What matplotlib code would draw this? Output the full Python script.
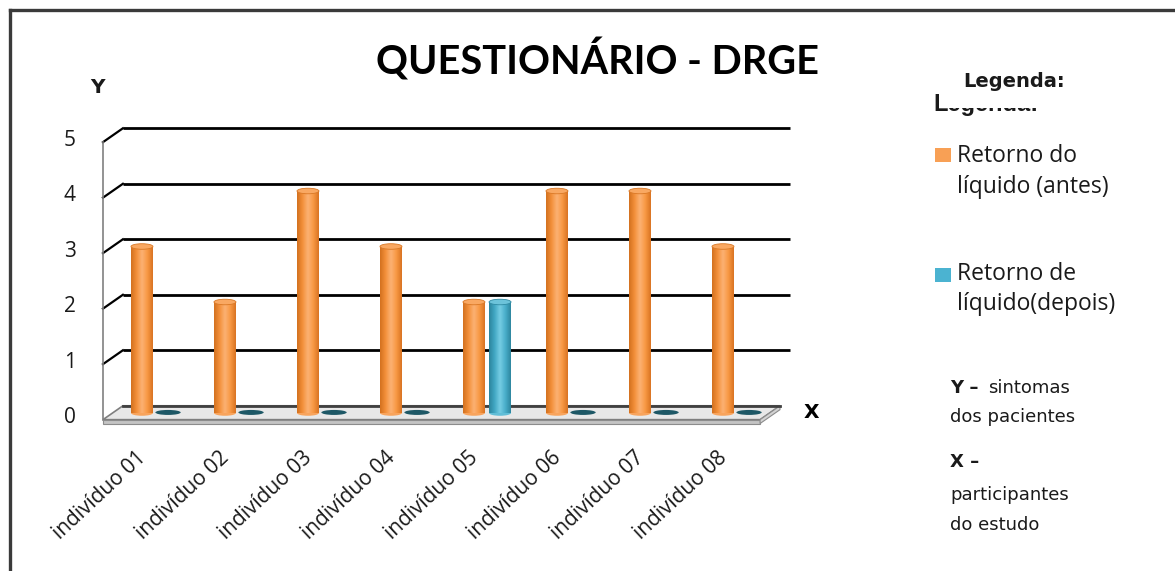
import numpy as np
import matplotlib
matplotlib.use("Agg")
import matplotlib.pyplot as plt
from matplotlib.patches import Ellipse, Polygon, Rectangle
from matplotlib.colors import LinearSegmentedColormap
from matplotlib.lines import Line2D

# ---- data ----
categories = ["indivíduo 01", "indivíduo 02", "indivíduo 03", "indivíduo 04",
              "indivíduo 05", "indivíduo 06", "indivíduo 07", "indivíduo 08"]
antes = [3, 2, 4, 3, 2, 4, 4, 3]
depois = [0, 0, 0, 0, 2, 0, 0, 0]
series_names = [["Retorno do", "líquido (antes)"], ["Retorno de", "líquido(depois)"]]
yticks = [0, 1, 2, 3, 4, 5]
title = "QUESTIONÁRIO - DRGE"

W, H = 1175, 571
fig = plt.figure(figsize=(W / 100, H / 100), dpi=100)

def fx(px):
    return px / W

def fy(py):
    return 1 - py / H

# axes region in pixels
axL, axR, axT, axB = 60, 820, 100, 450
ax = fig.add_axes([fx(axL), fy(axB), fx(axR - axL), (axB - axT) / H])
x_per_px = 1 / 83.0
y_per_px = 1 / 55.5
xlim = ((axL - 155) * x_per_px, (axR - 155) * x_per_px)
ylim = ((413 - axB) * y_per_px, (413 - axT) * y_per_px)
ax.axis("off")

n = len(categories)
x = np.arange(n)
bw = 0.265
off = 0.157
depth_x = 0.24
front_v = -0.12
back_v = 0.13
left_front = -0.627
right_back = 7.65

# back wall gridlines
for v in yticks[1:]:
    ax.plot([left_front + depth_x, right_back], [v + back_v, v + back_v],
            color="black", lw=2.0, zorder=1, solid_capstyle="butt")
    ax.plot([left_front, left_front + depth_x], [v + front_v, v + back_v],
            color="black", lw=1.6, zorder=1)
# left side wall vertical edge
ax.plot([left_front, left_front], [front_v, yticks[-1] + front_v],
        color="#808080", lw=1.2, zorder=1)

# floor slab
floor_right_front = 7.29
floor_right_back = 7.53
top_face = Polygon([[left_front, front_v], [left_front + depth_x, back_v],
                    [floor_right_back, back_v], [floor_right_front, front_v]],
                   closed=True, facecolor="#E8E8E8", edgecolor="#7F7F7F",
                   lw=1.2, zorder=2)
ax.add_patch(top_face)
front_face = Polygon([[left_front, front_v], [floor_right_front, front_v],
                      [floor_right_front, front_v - 0.07], [left_front, front_v - 0.07]],
                     closed=True, facecolor="#C4C4C4", edgecolor="#8C8C8C",
                     lw=0.8, zorder=2)
ax.add_patch(front_face)
side_face = Polygon([[floor_right_front, front_v], [floor_right_back, back_v],
                     [floor_right_back, back_v - 0.07], [floor_right_front, front_v - 0.07]],
                    closed=True, facecolor="#D3D3D3", edgecolor="#8C8C8C",
                    lw=0.8, zorder=2)
ax.add_patch(side_face)
ax.plot([left_front + depth_x, floor_right_back], [back_v, back_v],
        color="#404040", lw=2.0, zorder=2.1)

# cylinders
cm_or = LinearSegmentedColormap.from_list(
    "or", ["#D2701F", "#F3903A", "#FCB274", "#F89843", "#D87322"])
cm_tl = LinearSegmentedColormap.from_list(
    "tl", ["#2C849C", "#41A7C3", "#76CDE4", "#49AECA", "#2E869E"])
grad = np.linspace(0, 1, 128).reshape(1, -1)

def draw_cyl(xpos, vals, cmap, cap_color, edge_color, zero_color):
    bars = ax.bar(xpos, vals, width=bw, color=cap_color, edgecolor="none", zorder=3)
    for b in bars:
        x0, w, h = b.get_x(), b.get_width(), b.get_height()
        cx = x0 + w / 2
        if h > 0:
            im = ax.imshow(grad, extent=[x0, x0 + w, 0, h], cmap=cmap,
                           aspect="auto", zorder=3.1, interpolation="bicubic")
            im.set_clip_path(b)
            ax.add_patch(Ellipse((cx, 0), w, 0.1, facecolor=cmap(0.4),
                                 edgecolor="none", zorder=3.05))
            ax.add_patch(Ellipse((cx, h), w, 0.1, facecolor=cap_color,
                                 edgecolor=edge_color, lw=0.6, zorder=3.2))
        else:
            ax.add_patch(Ellipse((cx, h + 0.01), w * 1.15, 0.09, facecolor=zero_color,
                                 edgecolor="none", zorder=3.2))
    return bars

draw_cyl(x - off, antes, cm_or, "#F9A862", "#D97826", "#C9661A")
draw_cyl(x + off, depois, cm_tl, "#6CC3DA", "#2F8AA3", "#1E5866")

ax.set_xlim(*xlim)
ax.set_ylim(*ylim)

# y tick labels
for v in yticks:
    ax.text((70 - 155) * x_per_px, v - 0.09, str(v), ha="center", va="center",
            fontsize=15, family="Open Sans", color="#1A1A1A")

# x tick labels
for i, c in enumerate(categories):
    ax.text(i - 0.06, -0.62, c, rotation=43, ha="right", va="top",
            fontsize=15, family="Open Sans", color="#1A1A1A")

# title and axis letters
fig.text(fx(597), fy(60), title, ha="center", va="center", fontsize=28.5,
         fontweight="bold", family="Lato", color="black")
fig.text(fx(97), fy(88), "Y", ha="center", va="center", fontsize=14.5,
         fontweight="bold", family="DejaVu Sans", color="#1A1A1A")
fig.text(fx(811), fy(412), "X", ha="center", va="center", fontsize=14.5,
         fontweight="bold", family="DejaVu Sans", color="black")

# legend panel
fig.text(fx(963), fy(87), "Legenda:", ha="left", va="baseline", fontsize=14,
         fontweight="bold", family="DejaVu Sans", color="#1A1A1A", zorder=6)
fig.text(fx(933), fy(111), "Legenda:", ha="left", va="baseline", fontsize=17,
         fontweight="bold", family="Liberation Sans", color="#1A1A1A", zorder=3)
fig.add_artist(Rectangle((fx(939), fy(107.5)), fx(130), 14.5 / H,
                         transform=fig.transFigure, facecolor="white",
                         edgecolor="none", zorder=5))

leg_colors = ["#F8A055", "#4BB3D1"]
leg_box_top = [148, 268]
leg_base = [[162, 193], [280, 310]]
for lines, col, bt, bases in zip(series_names, leg_colors, leg_box_top, leg_base):
    fig.add_artist(Rectangle((fx(935), fy(bt + 14)), fx(16), 14 / H,
                             transform=fig.transFigure, facecolor=col,
                             edgecolor="none"))
    for line, bl in zip(lines, bases):
        fig.text(fx(957), fy(bl), line, ha="left", va="baseline", fontsize=16.5,
                 family="Open Sans", color="#1A1A1A")

note_kw = dict(ha="left", va="baseline", fontsize=13, family="DejaVu Sans",
               color="#1A1A1A")
fig.text(fx(950), fy(393), "Y –", fontweight="bold", **note_kw)
fig.text(fx(988), fy(393), "sintomas", **note_kw)
fig.text(fx(950), fy(422), "dos pacientes", **note_kw)
fig.text(fx(950), fy(467), "X –", fontweight="bold", **note_kw)
fig.text(fx(950), fy(500), "participantes", **note_kw)
fig.text(fx(950), fy(530), "do estudo", **note_kw)

# outer frame (top and left edges)
fig.add_artist(Line2D([fx(10), 1.0], [fy(10), fy(10)], transform=fig.transFigure,
                      color="#3A3A3A", lw=2.4))
fig.add_artist(Line2D([fx(10), fx(10)], [fy(10), 0.0], transform=fig.transFigure,
                      color="#3A3A3A", lw=2.4))

fig.savefig("out.png", dpi=100, facecolor="white")
